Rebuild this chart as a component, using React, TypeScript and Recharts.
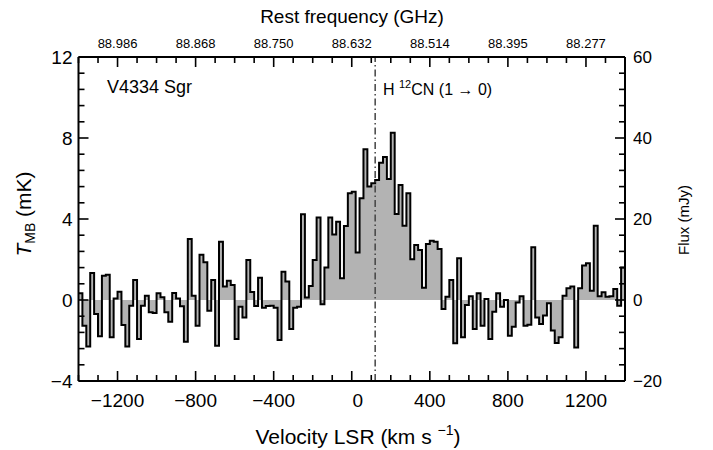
import React from 'react';
import { AreaChart, Area, XAxis, YAxis, ReferenceLine } from 'recharts';

// Velocity bin starts (km/s), 20 km/s bins
const velocities = [
  -1400, -1380, -1360, -1340, -1320, -1300, -1280, -1260, -1240, -1220,
  -1200, -1180, -1160, -1140, -1120, -1100, -1080, -1060, -1040, -1020,
  -1000, -980, -960, -940, -920, -900, -880, -860, -840, -820,
  -800, -780, -760, -740, -720, -700, -680, -660, -640, -620,
  -600, -580, -560, -540, -520, -500, -480, -460, -440, -420,
  -400, -380, -360, -340, -320, -300, -280, -260, -240, -220,
  -200, -180, -160, -140, -120, -100, -80, -60, -40, -20,
  0, 20, 40, 60, 80, 100, 120, 140, 160, 180,
  200, 220, 240, 260, 280, 300, 320, 340, 360, 380,
  400, 420, 440, 460, 480, 500, 520, 540, 560, 580,
  600, 620, 640, 660, 680, 700, 720, 740, 760, 780,
  800, 820, 840, 860, 880, 900, 920, 940, 960, 980,
  1000, 1020, 1040, 1060, 1080, 1100, 1120, 1140, 1160, 1180,
  1200, 1220, 1240, 1260, 1280, 1300, 1320, 1340, 1360, 1380,
];
const lastEdge = 1400;

// T_MB (mK) per bin
const tmb = [
  0.33, -1.27, -2.3, 1.33, -0.69, -1.79, 1.2, 1.25, -1.84, 0.08,
  0.41, -1.23, -2.3, -0.28, 0.99, -1.93, -0.28, 0.21, -0.61, -0.64,
  0.33, 0.13, -0.61, -1.07, 0.35, 0.08, -0.31, -2.06, 3.01, 0.21,
  -1.27, 2.24, 1.86, -0.53, 0.99, -2.26, 2.88, 0.67, 0.95, 0.74,
  -1.93, -0.33, -0.86, 1.98, 0.4, -0.3, 1.1, -0.38, -0.3, -0.28,
  -0.38, -1.98, 1.4, 0.91, -1.43, -0.38, -0.33, 4.23, 0.12, 0.69,
  1.98, 4.07, -0.21, 1.61, 4.07, 3.24, 3.87, 1.07, 3.65, 5.27,
  5.35, 2.35, 5.02, 7.44, 5.6, 5.76, 5.93, 6.78, 7.06, 5.98,
  8.26, 4.25, 5.68, 3.67, 5.27, 2.01, 2.72, 2.47, 0.61, 2.77,
  2.93, 2.88, 2.52, -0.44, 0.16, 0.99, -2.14, 2.06, -1.84, -0.25,
  0.18, -1.43, 0.33, -1.27, 0.05, -1.93, -0.58, 0.33, -0.33, 0,
  -1.76, -1.32, -0.12, 0.18, -1.27, -1.22, 2.6, -0.86, -1.19, -0.77,
  -0.16, -1.51, -2.12, -1.84, 0.21, 0.58, 0.67, -2.34, 0.58, 1.7,
  1.81, 0.46, 3.67, 0.18, 0.38, 0.16, 0.18, 0.54, -0.28, 1.61,
];

const velocityTicks = [
  -1400, -1300, -1200, -1100, -1000, -900, -800, -700, -600, -500, -400, -300, -200, -100,
  0, 100, 200, 300, 400, 500, 600, 700, 800, 900, 1000, 1100, 1200, 1300, 1400,
];
const velocityLabels = [-1200, -800, -400, 0, 400, 800, 1200];
const freqLabels = ['88.986', '88.868', '88.750', '88.632', '88.514', '88.395', '88.277'];

const tmbTicks = [-4, -3.2, -2.4, -1.6, -0.8, 0, 0.8, 1.6, 2.4, 3.2, 4, 4.8, 5.6, 6.4, 7.2, 8, 8.8, 9.6, 10.4, 11.2, 12];
const tmbLabels = [-4, 0, 4, 8, 12];
const fluxTicks = [-20, -16, -12, -8, -4, 0, 4, 8, 12, 16, 20, 24, 28, 32, 36, 40, 44, 48, 52, 56, 60];
const fluxLabels = [-20, 0, 20, 40, 60];

const lineVelocity = 120;

const data = velocities
  .map((v, i) => ({ v, t: tmb[i] }))
  .concat([{ v: lastEdge, t: tmb[tmb.length - 1] }]);

const FONT = '"Liberation Sans", Arial, Helvetica, sans-serif';
const fmt = (n: number) => (n < 0 ? '\u2212' + Math.abs(n) : String(n));

const BottomTick = (props: any) => {
  const { x, y, payload } = props;
  const v = payload.value;
  const major = velocityLabels.includes(v);
  return (
    <g>
      <line x1={x} x2={x} y1={y} y2={y - (major ? 10 : 6)} stroke="#000" strokeWidth={1.6} />
      {major && (
        <text x={x + (v === 0 ? 6 : 0)} y={y + 26} textAnchor="middle" fontSize={19} fontFamily={FONT} fill="#000">
          {fmt(v)}
        </text>
      )}
    </g>
  );
};

const TopTick = (props: any) => {
  const { x, y, payload } = props;
  const v = payload.value;
  const idx = velocityLabels.indexOf(v);
  const major = idx >= 0;
  return (
    <g>
      <line x1={x} x2={x} y1={y} y2={y + (major ? 10 : 6)} stroke="#000" strokeWidth={1.6} />
      {major && (
        <text x={x} y={y - 9} textAnchor="middle" fontSize={13} fontFamily={FONT} fill="#000">
          {freqLabels[idx]}
        </text>
      )}
    </g>
  );
};

const near = (a: number, arr: number[]) => arr.some((b) => Math.abs(a - b) < 1e-6);

const LeftTick = (props: any) => {
  const { x, y, payload } = props;
  const v = payload.value;
  const major = near(v, tmbLabels);
  return (
    <g>
      <line x1={x} x2={x + (major ? 10 : 6)} y1={y} y2={y} stroke="#000" strokeWidth={1.6} />
      {major && (
        <text x={x - 6} y={y + 7} textAnchor="end" fontSize={19} fontFamily={FONT} fill="#000">
          {fmt(v)}
        </text>
      )}
    </g>
  );
};

const RightTick = (props: any) => {
  const { x, y, payload } = props;
  const v = payload.value;
  const major = near(v, fluxLabels);
  return (
    <g>
      <line x1={x} x2={x - (major ? 10 : 6)} y1={y} y2={y} stroke="#000" strokeWidth={1.6} />
      {major && (
        <text x={x + 8} y={y + 6} textAnchor="start" fontSize={17} fontFamily={FONT} fill="#000">
          {fmt(v)}
        </text>
      )}
    </g>
  );
};

export default function App() {
  return (
    <div style={{ position: 'absolute', left: 0, top: 0, width: 713, height: 450, background: '#fff' }}>
      <AreaChart
        width={713}
        height={450}
        data={data}
        margin={{ top: 27, right: 28, bottom: 29, left: 18.5 }}
      >
        <XAxis
          xAxisId="bottom"
          dataKey="v"
          type="number"
          domain={[-1400, 1400]}
          ticks={velocityTicks}
          interval={0}
          tickSize={0}
          tickMargin={0}
          tickLine={false}
          tick={<BottomTick />}
          height={40}
          axisLine={{ stroke: '#000', strokeWidth: 2 }}
          allowDataOverflow
        />
        <XAxis
          xAxisId="top"
          orientation="top"
          dataKey="v"
          type="number"
          domain={[-1400, 1400]}
          ticks={velocityTicks}
          interval={0}
          tickSize={0}
          tickMargin={0}
          tickLine={false}
          tick={<TopTick />}
          height={30}
          axisLine={{ stroke: '#000', strokeWidth: 2 }}
          allowDataOverflow
        />
        <YAxis
          yAxisId="left"
          type="number"
          domain={[-4, 12]}
          ticks={tmbTicks}
          interval={0}
          tickSize={0}
          tickMargin={0}
          tickLine={false}
          tick={<LeftTick />}
          width={60}
          axisLine={{ stroke: '#000', strokeWidth: 2 }}
          allowDataOverflow
        />
        <YAxis
          yAxisId="right"
          orientation="right"
          type="number"
          domain={[-20, 60]}
          ticks={fluxTicks}
          interval={0}
          tickSize={0}
          tickMargin={0}
          tickLine={false}
          tick={<RightTick />}
          width={60}
          axisLine={{ stroke: '#000', strokeWidth: 2 }}
          allowDataOverflow
        />
        <Area
          xAxisId="top"
          yAxisId="right"
          dataKey="t"
          type="stepAfter"
          stroke="none"
          fill="none"
          isAnimationActive={false}
          dot={false}
          activeDot={false}
        />
        <Area
          xAxisId="bottom"
          yAxisId="left"
          dataKey="t"
          type="stepAfter"
          baseValue={0}
          stroke="#000"
          strokeWidth={2}
          fill="#b3b3b3"
          fillOpacity={1}
          isAnimationActive={false}
          dot={false}
          activeDot={false}
        />
        <ReferenceLine
          xAxisId="bottom"
          yAxisId="left"
          x={lineVelocity}
          stroke="#444"
          strokeWidth={1.5}
          strokeDasharray="7 3 1.5 3"
        />
      </AreaChart>
      <svg
        width={713}
        height={450}
        style={{ position: 'absolute', left: 0, top: 0, pointerEvents: 'none' }}
        fontFamily={FONT}
      >
        <text x={352} y={23} textAnchor="middle" fontSize={19} fill="#000">
          Rest frequency (GHz)
        </text>
        <text x={358} y={444} textAnchor="middle" fontSize={21} fill="#000">
          Velocity LSR (km s <tspan fontSize={14} dy={-9}>{'\u22121'}</tspan>
          <tspan dy={9}>)</tspan>
        </text>
        <text x={107} y={93} fontSize={18} fill="#000">
          V4334 Sgr
        </text>
        <text x={383} y={95} fontSize={16} fill="#000">
          H <tspan fontSize={11} dy={-7}>12</tspan>
          <tspan dy={7}>CN (1 {'\u2192'} 0)</tspan>
        </text>
        <text transform="translate(31,214) rotate(-90)" textAnchor="middle" fontSize={21} fill="#000">
          <tspan fontStyle="italic">T</tspan>
          <tspan fontSize={14} dy={4}>MB</tspan>
          <tspan dy={-4}> (mK)</tspan>
        </text>
        <text transform="translate(689,220) rotate(-90)" textAnchor="middle" fontSize={15} fill="#000">
          Flux (mJy)
        </text>
      </svg>
    </div>
  );
}
